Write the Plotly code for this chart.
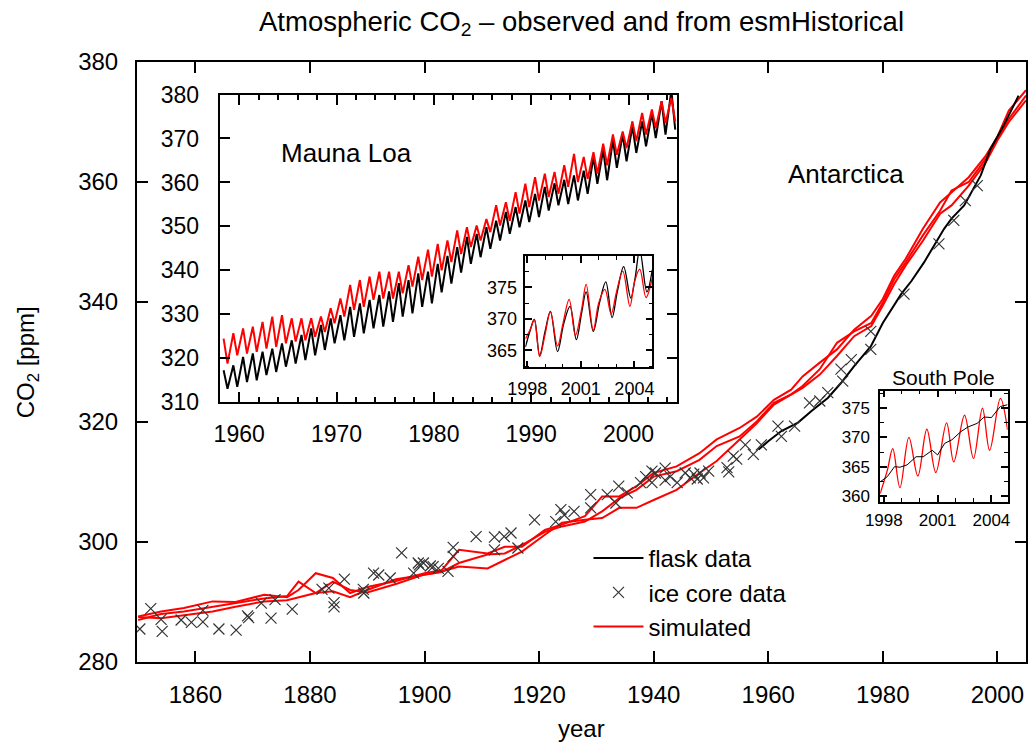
import plotly.graph_objects as go

# ---------------- main panel data (Antarctica) ----------------
sim_year = [1850, 1854, 1858, 1863, 1867, 1872, 1876, 1878, 1881, 1884, 1887, 1890, 1895, 1900,
            1903, 1906, 1911, 1914, 1917, 1921, 1924, 1928, 1931, 1934, 1937, 1940, 1944, 1948,
            1951, 1955, 1958, 1961, 1964, 1966, 1969, 1972, 1975, 1978, 1980, 1982, 1984, 1987,
            1990, 1992, 1995, 1998, 2000, 2002, 2005]
sim_a = [287.6, 288.4, 289.0, 290.1, 290.0, 291.2, 290.8, 292.0, 294.8, 294.0, 291.5, 292.5, 293.5, 294.8,
         295.3, 298.7, 298.1, 299.2, 299.2, 302.0, 302.9, 304.3, 307.6, 307.6, 309.3, 311.5, 312.6, 314.8,
         317.1, 319.0, 320.9, 323.7, 325.4, 327.6, 329.9, 332.1, 335.4, 337.7, 340.5, 344.4, 347.2, 352.2,
         356.6, 358.3, 360.8, 364.4, 367.5, 371.9, 375.3]
sim_b = [287.0, 288.0, 288.4, 289.2, 289.8, 290.6, 291.0, 293.4, 291.5, 291.8, 290.8, 292.0, 293.8, 294.5,
         295.0, 296.5, 297.9, 298.1, 299.5, 301.7, 302.6, 303.4, 305.1, 307.3, 308.7, 310.9, 311.8, 313.7,
         316.0, 317.6, 320.1, 323.2, 324.6, 326.0, 328.8, 333.2, 335.1, 336.5, 339.9, 343.8, 346.6, 351.1,
         355.2, 358.6, 360.0, 363.9, 367.2, 370.5, 374.4]
sim_c = [287.5, 287.3, 287.8, 288.4, 289.2, 290.1, 290.3, 290.8, 291.5, 293.4, 292.0, 291.6, 293.0, 294.6,
         295.1, 295.9, 295.6, 297.0, 298.4, 301.2, 303.2, 303.7, 304.0, 305.7, 305.7, 307.0, 308.7, 311.5,
         313.5, 317.1, 319.8, 322.9, 324.6, 325.7, 327.9, 331.0, 334.3, 336.0, 339.4, 343.0, 346.1, 350.2,
         354.7, 356.1, 359.4, 363.3, 366.9, 370.0, 373.6]

flask_year = [1958.3, 1960.0, 1962.3, 1965.2, 1967.5, 1970.4, 1972.7, 1975.0, 1977.9, 1980.0,
              1983.2, 1985.0, 1987.2, 1990.7, 1992.0, 1994.2, 1997.1, 1998.8, 2001.1, 2003.7]
flask_co2 = [315.4, 316.8, 318.5, 319.9, 321.8, 324.0, 326.5, 329.3, 332.6, 336.5,
             341.3, 343.5, 346.6, 352.2, 353.9, 356.1, 361.1, 365.5, 369.4, 374.4]

ice_year = [1850.3, 1852.2, 1854.0, 1854.2, 1857.5, 1859.3, 1861.3, 1861.3, 1864.1, 1867.1,
            1869.1, 1869.3, 1871.5, 1873.2, 1873.9, 1876.9, 1882.1, 1883.3, 1884.2, 1884.2,
            1886.0, 1889.3, 1889.4, 1891.1, 1892.0, 1894.0, 1896.0, 1898.1, 1898.9, 1899.1,
            1899.8, 1901.0, 1901.5, 1902.4, 1904.1, 1905.0, 1905.0, 1909.0, 1912.2, 1912.2,
            1913.9, 1915.1, 1916.3, 1919.2, 1922.9, 1923.8, 1924.4, 1926.1, 1929.0, 1929.0,
            1931.9, 1933.4, 1933.9, 1935.4, 1937.7, 1938.6, 1939.7, 1939.7, 1940.3, 1942.0,
            1942.0, 1942.9, 1944.1, 1945.5, 1946.4, 1947.0, 1947.6, 1948.1, 1948.7, 1949.6,
            1952.8, 1953.1, 1953.9, 1954.5, 1956.0, 1957.4, 1958.8, 1961.7, 1962.3, 1964.6,
            1967.2, 1969.0, 1970.4, 1972.7, 1973.0, 1974.5, 1977.9, 1977.9, 1983.7, 1989.8,
            1992.4, 1994.4, 1996.5]
ice_co2 = [285.5, 288.9, 287.1, 285.1, 287.0, 286.6, 286.7, 288.6, 285.5, 285.3,
           287.7, 287.4, 289.8, 287.3, 290.4, 288.8, 292.1, 292.3, 289.9, 289.2,
           293.8, 292.1, 291.5, 294.8, 294.5, 294.0, 298.2, 294.8, 296.5, 296.2,
           296.5, 296.0, 295.9, 295.6, 295.1, 299.1, 297.6, 300.9, 300.8, 298.7,
           300.9, 301.5, 299.0, 303.7, 303.4, 305.4, 304.5, 305.1, 307.9, 305.7,
           307.9, 306.5, 309.3, 308.2, 309.9, 310.9, 311.8, 309.9, 311.5, 312.3,
           310.3, 310.9, 309.9, 311.5, 310.7, 311.3, 310.5, 311.5, 310.7, 311.8,
           312.4, 311.7, 314.3, 313.8, 316.2, 314.6, 316.2, 319.3, 317.6, 319.3,
           323.2, 323.5, 324.9, 328.8, 326.8, 330.4, 335.1, 332.1, 341.3, 349.7,
           353.6, 356.9, 359.4]

# ---------------- Mauna Loa inset (seasonal peaks / troughs) ----------------
ml_peak_year = [1958.4, 1959.4, 1960.4, 1961.4, 1962.4, 1963.4, 1964.4, 1965.4, 1966.4, 1967.4,
                1968.4, 1969.4, 1970.4, 1971.4, 1972.4, 1973.4, 1974.4, 1975.4, 1976.4, 1977.4,
                1978.4, 1979.4, 1980.4, 1981.4, 1982.4, 1983.4, 1984.4, 1985.4, 1986.4, 1987.4,
                1988.4, 1989.4, 1990.4, 1991.4, 1992.4, 1993.4, 1994.4, 1995.4, 1996.4, 1997.4,
                1998.4, 1999.4, 2000.4, 2001.4, 2002.4, 2003.4, 2004.4]
ml_trough_year = [1958.8, 1959.8, 1960.8, 1961.8, 1962.8, 1963.8, 1964.8, 1965.8, 1966.8, 1967.8,
                  1968.8, 1969.8, 1970.8, 1971.8, 1972.8, 1973.8, 1974.8, 1975.8, 1976.8, 1977.8,
                  1978.8, 1979.8, 1980.8, 1981.8, 1982.8, 1983.8, 1984.8, 1985.8, 1986.8, 1987.8,
                  1988.8, 1989.8, 1990.8, 1991.8, 1992.8, 1993.8, 1994.8, 1995.8, 1996.8, 1997.8,
                  1998.8, 1999.8, 2000.8, 2001.8, 2002.8, 2003.8, 2004.8]
ml_obs_peak = [317.3, 318.4, 320.3, 321.1, 321.5, 322.2, 323.4, 324.1, 325.3, 326.8,
               327.6, 329.1, 329.8, 331.7, 332.5, 333.3, 334.4, 335.2, 337.1, 337.8,
               339.3, 339.7, 341.5, 343.3, 345.3, 347.6, 348.3, 349.8, 351.3, 353.3,
               354.4, 355.9, 357.4, 359.0, 359.8, 360.6, 361.6, 362.7, 365.8, 367.5,
               369.7, 370.9, 372.8, 373.9, 375.8, 378.5, 381.0]
ml_obs_trough = [313.1, 313.5, 314.6, 315.0, 316.2, 316.9, 318.1, 318.8, 319.6, 320.7,
                 321.9, 323.4, 324.1, 324.9, 325.7, 326.8, 327.2, 328.3, 329.5, 330.2,
                 331.7, 332.5, 335.0, 337.0, 339.5, 341.5, 343.0, 344.9, 346.8, 348.3,
                 349.8, 351.0, 352.1, 353.6, 354.8, 355.1, 355.9, 357.4, 359.7, 360.5,
                 363.3, 364.8, 366.7, 368.2, 370.1, 370.9, 372.0]
ml_sim_peak = [324.5, 325.7, 326.8, 327.2, 328.3, 329.5, 329.8, 329.1, 329.1, 329.1,
               329.5, 331.4, 333.6, 336.7, 337.8, 338.6, 339.7, 339.7, 339.7, 341.2,
               343.1, 344.7, 346.0, 346.8, 349.1, 349.8, 350.2, 351.7, 354.8, 355.5,
               357.8, 359.7, 361.2, 362.0, 362.4, 363.9, 366.5, 365.8, 366.9, 368.8,
               370.9, 371.6, 373.9, 375.8, 376.6, 378.5, 379.2]
ml_sim_trough = [318.8, 320.7, 321.1, 321.5, 322.2, 322.6, 323.4, 323.8, 324.1, 324.9,
                 326.0, 328.0, 329.5, 331.0, 331.7, 333.3, 333.6, 333.6, 334.8, 336.3,
                 337.8, 338.6, 340.0, 341.9, 343.7, 345.3, 346.8, 348.7, 350.2, 351.3,
                 352.9, 354.4, 355.9, 356.7, 357.4, 359.0, 360.1, 360.8, 362.0, 363.9,
                 366.3, 367.8, 369.4, 370.9, 372.4, 373.5, 373.9]

# ---------------- Mauna Loa zoom 1998-2005 ----------------
mlz_obs_year = [1997.9, 1998.15, 1998.4, 1998.7, 1999.0, 1999.3, 1999.7, 2000.05, 2000.4, 2000.75,
                2001.05, 2001.3, 2001.7, 2002.05, 2002.4, 2002.75, 2003.05, 2003.4, 2003.8, 2004.05,
                2004.3, 2004.7, 2005.0]
mlz_obs_co2 = [365.5, 368.0, 369.9, 364.2, 368.0, 371.2, 364.8, 369.3, 372.0, 366.7,
               371.0, 374.3, 368.0, 372.6, 375.9, 370.2, 374.4, 378.3, 373.3, 376.7,
               381.0, 374.3, 377.8]
mlz_sim_year = [1997.9, 1998.2, 1998.4, 1998.7, 1999.0, 1999.3, 1999.7, 2000.0, 2000.35, 2000.7,
                2001.05, 2001.3, 2001.7, 2002.0, 2002.35, 2002.7, 2003.0, 2003.35, 2003.75, 2004.0,
                2004.3, 2004.65, 2005.0]
mlz_sim_co2 = [366.8, 368.5, 369.9, 364.0, 367.5, 371.1, 365.7, 369.2, 373.1, 367.4,
               371.6, 375.5, 368.2, 372.5, 374.7, 370.8, 374.3, 377.6, 372.0, 375.8,
               377.9, 373.4, 376.5]

# ---------------- South Pole inset ----------------
sp_obs_year = [1997.8, 1998.2, 1998.6, 1998.9, 1999.3, 1999.8, 2000.2, 2000.7, 2001.0, 2001.4,
               2001.8, 2002.3, 2002.7, 2003.2, 2003.6, 2004.0, 2004.5, 2004.9]
sp_obs_co2 = [362.4, 363.3, 365.0, 364.9, 365.3, 366.7, 366.7, 367.8, 367.0, 369.0,
              369.6, 371.0, 371.8, 372.4, 373.5, 373.4, 375.3, 375.6]
sp_sim_year = [1997.8, 1998.2, 1998.5, 1998.9, 1999.4, 1999.9, 2000.4, 2000.9, 2001.5, 2001.9,
               2002.5, 2003.0, 2003.5, 2003.9, 2004.5, 2004.9]
sp_sim_co2 = [360.4, 364.4, 368.1, 361.4, 370.0, 363.4, 371.4, 364.0, 372.5, 365.8,
              373.8, 366.4, 375.0, 367.8, 376.7, 371.3]

# merged seasonal series (peaks and troughs in time order)
ml_obs_x = sorted(ml_peak_year + ml_trough_year)
ml_obs_y = [v for _, v in sorted(zip(ml_peak_year + ml_trough_year, ml_obs_peak + ml_obs_trough))]
ml_sim_y = [v for _, v in sorted(zip(ml_peak_year + ml_trough_year, ml_sim_peak + ml_sim_trough))]

FONT = "Liberation Sans, Arial, Helvetica, sans-serif"
RED = "#ff0000"

fig = go.Figure()

# main panel
for i, ys in enumerate([sim_a, sim_b, sim_c]):
    fig.add_trace(go.Scatter(x=sim_year, y=ys, mode="lines", line=dict(color=RED, width=2),
                             name="simulated", showlegend=(i == 0), legendrank=3,
                             xaxis="x", yaxis="y"))
fig.add_trace(go.Scatter(x=flask_year, y=flask_co2, mode="lines", line=dict(color="black", width=2),
                         name="flask data", legendrank=1, xaxis="x", yaxis="y"))
fig.add_trace(go.Scatter(x=ice_year, y=ice_co2, mode="markers", name="ice core data", legendrank=2,
                         marker=dict(symbol="x-thin", size=11, line=dict(width=1.2, color="#333333"),
                                     color="#333333"),
                         xaxis="x", yaxis="y"))

# Mauna Loa inset
fig.add_trace(go.Scatter(x=ml_obs_x, y=ml_obs_y, mode="lines", line=dict(color="black", width=2),
                         showlegend=False, xaxis="x2", yaxis="y2"))
fig.add_trace(go.Scatter(x=ml_obs_x, y=ml_sim_y, mode="lines", line=dict(color=RED, width=2),
                         showlegend=False, xaxis="x2", yaxis="y2"))
# Mauna Loa zoom
fig.add_trace(go.Scatter(x=mlz_obs_year, y=mlz_obs_co2, mode="lines", line=dict(color="black", width=1.3, shape="spline"),
                         showlegend=False, xaxis="x3", yaxis="y3"))
fig.add_trace(go.Scatter(x=mlz_sim_year, y=mlz_sim_co2, mode="lines", line=dict(color=RED, width=1.3, shape="spline"),
                         showlegend=False, xaxis="x3", yaxis="y3"))
# South Pole
fig.add_trace(go.Scatter(x=sp_sim_year, y=sp_sim_co2, mode="lines", line=dict(color=RED, width=1.3, shape="spline"),
                         showlegend=False, xaxis="x4", yaxis="y4"))
fig.add_trace(go.Scatter(x=sp_obs_year, y=sp_obs_co2, mode="lines", line=dict(color="black", width=1),
                         showlegend=False, xaxis="x4", yaxis="y4"))


def ax(**kw):
    base = dict(showline=True, linecolor="black", linewidth=2, mirror="ticks", ticks="inside",
                tickcolor="black", tickwidth=1.5, showgrid=False, zeroline=False,
                tickfont=dict(family=FONT, size=24, color="black"))
    base.update(kw)
    return base


# plot area: l=137, r=1029, t=62, b=662 (892 x 600)
def px(x):
    return (x - 137) / 892.0


def py(y):
    return (662 - y) / 600.0


fig.update_layout(
    width=1034, height=745,
    margin=dict(l=137, r=5, t=62, b=83),
    paper_bgcolor="white", plot_bgcolor="white",
    font=dict(family=FONT, color="black"),
    xaxis=ax(domain=[0, 1], anchor="y", range=[1849.8, 2005], tickvals=[1860, 1880, 1900, 1920, 1940, 1960, 1980, 2000],
             ticklen=11, ticklabelstandoff=10),
    yaxis=ax(domain=[0, 1], anchor="x", range=[280, 380], tickvals=[280, 300, 320, 340, 360, 380],
             ticklen=11, ticklabelstandoff=12),
    xaxis2=ax(domain=[px(220), px(679)], anchor="y2", range=[1958, 2005], tick0=1960, dtick=10,
              ticklen=10, tickfont=dict(family=FONT, size=23, color="black"), ticklabelstandoff=10,
              minor=dict(ticks="inside", ticklen=5, tick0=1960, dtick=2, tickcolor="black", tickwidth=1.5)),
    yaxis2=ax(domain=[py(402.3), py(94.5)], anchor="x2", range=[310, 380], dtick=10,
              ticklen=10, tickfont=dict(family=FONT, size=23, color="black"), ticklabelstandoff=14),
    xaxis3=ax(domain=[px(526.7), px(654)], anchor="y3", range=[1997.9, 2005], tick0=1998, dtick=3,
              ticklen=7, linewidth=1.5, tickfont=dict(family=FONT, size=18, color="black"), ticklabelstandoff=4,
              minor=dict(ticks="inside", ticklen=4, tick0=1998, dtick=1, tickcolor="black", tickwidth=1.2)),
    yaxis3=ax(domain=[py(367.3), py(256)], anchor="x3", range=[362.3, 380], tickvals=[365, 370, 375],
              ticklen=7, linewidth=1.5, tickfont=dict(family=FONT, size=18, color="black"), ticklabelstandoff=3,
              minor=dict(ticks="inside", ticklen=4, tick0=365, dtick=2.5, tickcolor="black", tickwidth=1.2)),
    xaxis4=ax(domain=[px(882.7), px(1010.5)], anchor="y4", range=[1997.8, 2004.9], tick0=1998, dtick=3,
              ticklen=7, linewidth=1.5, tickfont=dict(family=FONT, size=17, color="black"), ticklabelstandoff=2,
              minor=dict(ticks="inside", ticklen=4, tick0=1998, dtick=1, tickcolor="black", tickwidth=1.2)),
    yaxis4=ax(domain=[py(501.7), py(390.7)], anchor="x4", range=[359, 378], tickvals=[360, 365, 370, 375],
              ticklen=7, linewidth=1.5, tickfont=dict(family=FONT, size=17, color="black"), ticklabelstandoff=5,
              minor=dict(ticks="inside", ticklen=4, tick0=360, dtick=2.5, tickcolor="black", tickwidth=1.2)),
    title=dict(text="Atmospheric CO<sub>2</sub> – observed and from esmHistorical", x=px(583), xref="paper",
               xanchor="center", y=1 - 21 / 745, yref="container", yanchor="middle",
               font=dict(family=FONT, size=27.5, color="black")),
    legend=dict(x=px(590), xanchor="left", y=py(536), yanchor="top", bgcolor="rgba(0,0,0,0)",
                font=dict(family=FONT, size=24, color="black"), itemwidth=50, tracegroupgap=0),
    annotations=[
        dict(text="year", x=px(583), y=py(728), xref="paper", yref="paper", showarrow=False,
             xanchor="center", yanchor="middle", font=dict(family=FONT, size=24)),
        dict(text="CO<sub>2</sub> [ppm]", x=px(27), y=py(362), xref="paper", yref="paper", showarrow=False,
             textangle=-90, xanchor="center", yanchor="middle", font=dict(family=FONT, size=24)),
        dict(text="Mauna Loa", x=px(279), y=py(153), xref="paper", yref="paper", showarrow=False,
             xanchor="left", yanchor="middle", font=dict(family=FONT, size=26)),
        dict(text="Antarctica", x=px(848), y=py(174), xref="paper", yref="paper", showarrow=False,
             xanchor="center", yanchor="middle", font=dict(family=FONT, size=26)),
        dict(text="South Pole", x=px(946), y=py(377), xref="paper", yref="paper", showarrow=False,
             xanchor="center", yanchor="middle", font=dict(family=FONT, size=21)),
    ],
)

fig.write_html("out.html")
